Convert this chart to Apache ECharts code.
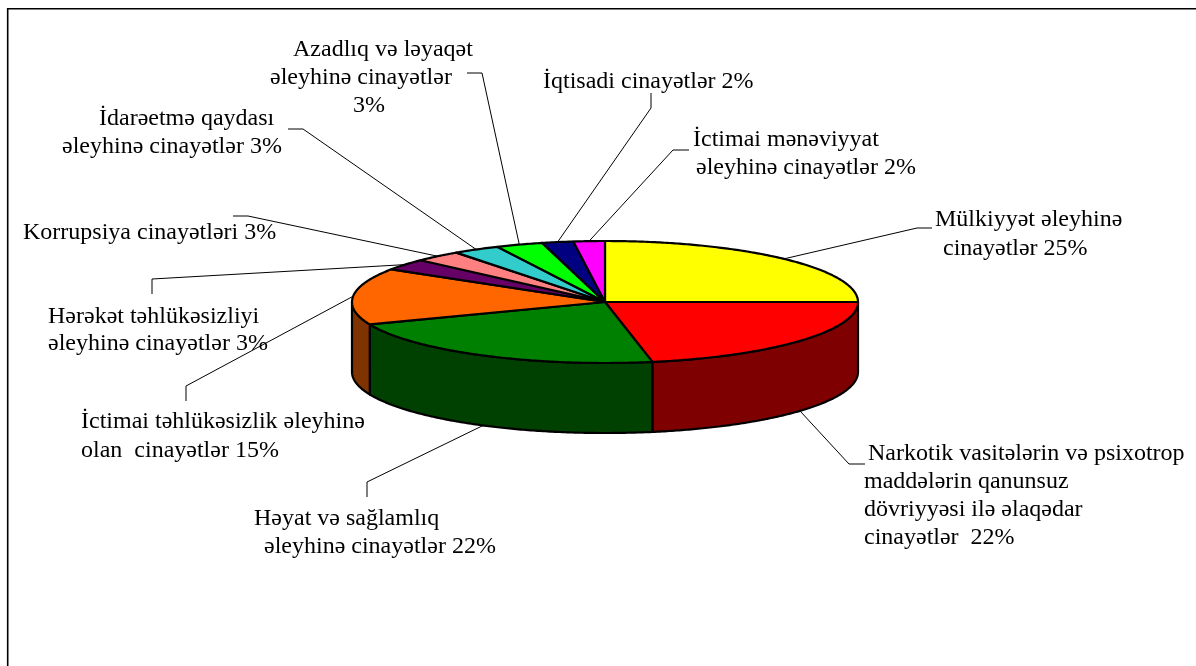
<!DOCTYPE html>
<html>
<head>
<meta charset="utf-8">
<style>html,body{margin:0;padding:0;background:#fff}#chart{width:1196px;height:666px}</style>
<script src="https://cdn.jsdelivr.net/npm/echarts@6/dist/echarts.min.js"></script>
</head>
<body>
<div id="chart"></div>
<script>
// ---- data ----
const categories = ["Mülkiyyət", "Narkotik", "Həyat və sağlamlıq", "İctimai təhlükəsizlik", "Hərəkət təhlükəsizliyi", "Korrupsiya", "İdarəetmə qaydası", "Azadlıq və ləyaqət", "İqtisadi", "İctimai mənəviyyat"];
const shares = [25, 22, 22, 15, 3, 3, 3, 3, 2, 2];
const labelTexts = [
  ["Mülkiyyət əleyhinə", "cinayətlər 25%"],
  ["Narkotik vasitələrin və psixotrop", "maddələrin qanunsuz", "dövriyyəsi ilə əlaqədar", "cinayətlər  22%"],
  ["Həyat və sağlamlıq", "əleyhinə cinayətlər 22%"],
  ["İctimai təhlükəsizlik əleyhinə", "olan  cinayətlər 15%"],
  ["Hərəkət təhlükəsizliyi", "əleyhinə cinayətlər 3%"],
  ["Korrupsiya cinayətləri 3%"],
  ["İdarəetmə qaydası", "əleyhinə cinayətlər 3%"],
  ["Azadlıq və ləyaqət", "əleyhinə cinayətlər", "3%"],
  ["İqtisadi cinayətlər 2%"],
  ["İctimai mənəviyyat", "əleyhinə cinayətlər 2%"]
];
// ---- style / layout ----
const topColors = ["#FFFF00", "#FF0000", "#008000", "#FF6600", "#660066", "#FF8080", "#33CCCC", "#00FF00", "#000080", "#FF00FF"];
const sideColors = ["#7F7F00", "#7F0000", "#004000", "#7F3300", "#330033", "#7F4040", "#196666", "#007F00", "#000040", "#7F007F"];
const pie = { cx: 605, cy: 302, rx: 253, ry: 61, depth: 70 };
// left x / baseline y of each text line
const labelPos = [
  [[935, 225], [943, 254]],
  [[868, 459], [864, 487], [864, 515], [864, 543]],
  [[254, 524], [264, 552]],
  [[81, 427], [81, 456]],
  [[48, 322], [48, 349]],
  [[23, 238]],
  [[99, 124], [62, 152]],
  [[293, 55], [270, 83], [353, 111]],
  [[543, 87]],
  [[693, 145], [696, 173]]
];
// leader elbows, from the slice outward
const leaderPath = [
  [[917, 228], [932, 228]],
  [[849, 464], [865, 464]],
  [[367, 482], [367, 497]],
  [[186, 386], [186, 401]],
  [[152, 279], [152, 294]],
  [[248, 216], [233, 216]],
  [[303, 129], [288, 129]],
  [[482, 73], [467, 73]],
  [[651, 108], [651, 93]],
  [[673, 150], [689, 150]]
];
const fontSize = 24;

const total = shares.reduce((a, b) => a + b, 0);
const starts = [];
shares.reduce((acc, v, i) => { starts[i] = acc; return acc + v; }, 0);
const toAngle = s => s / total * Math.PI * 2;
const ptAt = (a, dy) => [pie.cx + pie.rx * Math.sin(a), pie.cy - pie.ry * Math.cos(a) + (dy || 0)];
function arcPts(a0, a1, dy) {
  const n = Math.max(2, Math.ceil((a1 - a0) / 0.01));
  const pts = [];
  for (let k = 0; k <= n; k++) pts.push(ptAt(a0 + (a1 - a0) * k / n, dy));
  return pts;
}
const seriesData = shares.map((v, i) => [i, v]);

function renderLeader(params, api) {
  const i = api.value(0);
  const a = toAngle(starts[i] + api.value(1) / 2);
  const front = Math.cos(a) < -0.0001;
  const anchor = ptAt(a, front ? pie.depth : 0);
  const children = [{
    type: 'polyline', silent: true,
    shape: { points: [anchor].concat(leaderPath[i]) },
    style: { stroke: '#000', lineWidth: 1, fill: null }
  }];
  labelTexts[i].forEach((line, k) => {
    children.push({
      type: 'text', silent: true,
      x: labelPos[i][k][0], y: labelPos[i][k][1] - 17,
      style: { text: line, fill: '#000', font: fontSize + 'px "Liberation Serif"', align: 'left', verticalAlign: 'top' }
    });
  });
  return { type: 'group', children };
}
function renderSide(params, api) {
  const i = api.value(0);
  const a0 = Math.max(toAngle(starts[i]), Math.PI / 2);
  const a1 = Math.min(toAngle(starts[i] + api.value(1)), Math.PI * 1.5);
  if (a1 <= a0) return { type: 'group', children: [] };
  const pts = arcPts(a0, a1, 0).concat(arcPts(a0, a1, pie.depth).reverse());
  return { type: 'polygon', silent: true, shape: { points: pts },
    style: { fill: sideColors[i], stroke: '#000', lineWidth: 2.2, lineJoin: 'round' } };
}
function renderTop(params, api) {
  const i = api.value(0);
  const a0 = toAngle(starts[i]);
  const a1 = toAngle(starts[i] + api.value(1));
  return { type: 'polygon', silent: true, shape: { points: [[pie.cx, pie.cy]].concat(arcPts(a0, a1, 0)) },
    style: { fill: topColors[i], stroke: '#000', lineWidth: 2.2, lineJoin: 'round' } };
}

const chart = echarts.init(document.getElementById('chart'), null, { renderer: 'canvas' });
chart.setOption({
  animation: false,
  backgroundColor: '#fff',
  tooltip: { show: false },
  graphic: [{
    type: 'polyline', silent: true,
    shape: { points: [[7.7, 666], [7.7, 8.8], [1196, 8.8]] },
    style: { stroke: '#000', lineWidth: 1.6, fill: null }
  }],
  series: [
    { type: 'custom', name: 'leaders', coordinateSystem: 'none', renderItem: renderLeader, data: seriesData, z: 2 },
    { type: 'custom', name: 'sides', coordinateSystem: 'none', renderItem: renderSide, data: seriesData, z: 3 },
    { type: 'custom', name: 'tops', coordinateSystem: 'none', renderItem: renderTop, data: seriesData, z: 4 }
  ]
});
</script>
</body>
</html>
